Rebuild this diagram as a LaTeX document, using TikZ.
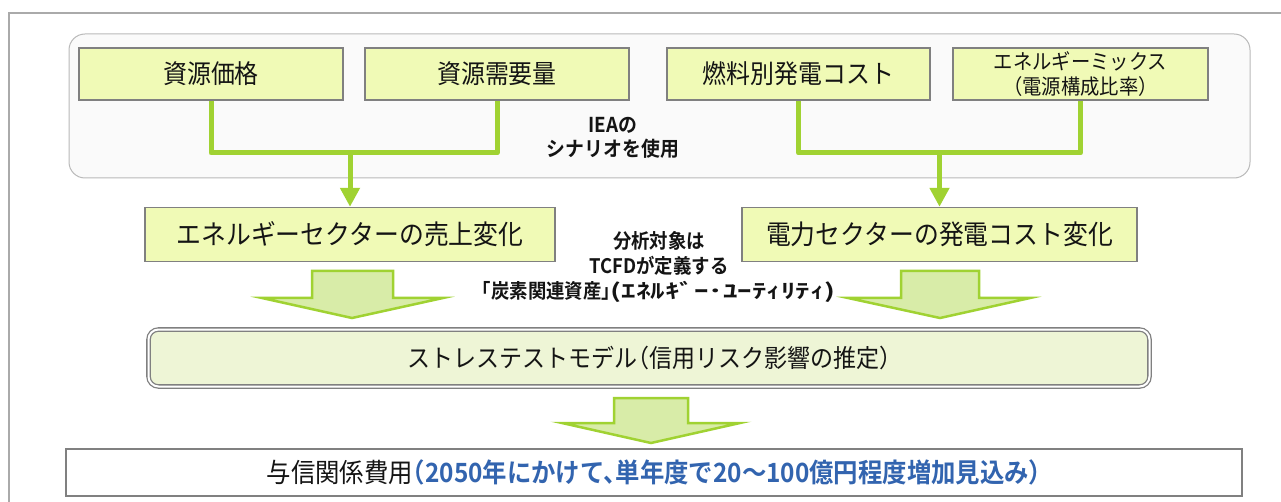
\documentclass[tikz,border=0pt]{standalone}
\usepackage{fontspec}
\setmainfont{Noto Sans CJK JP}[BoldFont={Noto Sans CJK JP Bold}, FakeStretch=0.92]
\newfontfamily\jph{Noto Sans CJK JP}[BoldFont={Noto Sans CJK JP Bold}, FakeStretch=0.92, RawFeature=+halt]
\newfontfamily\jpwide{Noto Sans CJK JP}[BoldFont={Noto Sans CJK JP Bold}, FakeStretch=1.45]
\usetikzlibrary{arrows.meta}
\definecolor{boxfill}{RGB}{240,250,182}
\definecolor{boxline}{RGB}{128,128,128}
\definecolor{conngreen}{RGB}{160,210,50}
\definecolor{arrowfill}{RGB}{216,236,168}
\definecolor{stressfill}{RGB}{238,245,214}
\definecolor{panelfill}{RGB}{250,250,250}
\definecolor{panelline}{RGB}{185,185,185}
\definecolor{frameline}{RGB}{170,170,170}
\definecolor{bluetxt}{RGB}{50,100,175}
\definecolor{txt}{RGB}{20,20,20}
\begin{document}
\begin{tikzpicture}[x=1pt,y=-1pt,
  box/.style={draw=boxline, fill=boxfill, line width=1.4pt, inner sep=0pt,
    minimum height=52pt, text=txt, font=\fontsize{26}{30}\selectfont},
  midbox/.style={box, minimum height=54pt, font=\fontsize{27}{31}\selectfont},
  conn/.style={draw=conngreen, line width=5pt, line join=round},
  tip/.style={-{Triangle[width=19pt,length=19pt]}},
  bigarrow/.style={draw=conngreen, fill=arrowfill, line width=2.5pt, line join=miter},
  lbl/.style={text=txt, align=center, inner sep=0pt},
  stress/.style={draw=boxline, double=white, double distance=2pt, line width=1.3pt,
    fill=stressfill, rounded corners=10pt, inner sep=0pt, text=txt,
    font=\jph\fontsize{25}{29}\selectfont},
  result/.style={draw=boxline, fill=white, line width=2pt, inner sep=0pt, text=txt,
    font=\jph\fontsize{26.5}{30}\selectfont}
]
\useasboundingbox (0,0) rectangle (1281,502);
\fill[white] (0,0) rectangle (1281,502);
% outer frame
\draw[frameline, line width=2pt] (9,502) -- (9,13) -- (1281,13);
% scenario panel
\draw[panelline, fill=panelfill, line width=1pt, rounded corners=16pt] (69,34) rectangle (1250,178);
% top boxes
\node[box, minimum width=264pt] (b1) at (211,74) {資源価格};
\node[box, minimum width=264pt] (b2) at (497,74) {資源需要量};
\node[box, minimum width=263pt] (b3) at (798.5,74) {燃料別発電コスト};
\node[box, minimum width=255pt, align=center, font=\fontsize{21}{25}\selectfont] (b4) at (1080.5,74) {エネルギーミックス\\（電源構成比率）};
\node[lbl, font=\bfseries\fontsize{20.5}{24}\selectfont] (iea) at (613,138) {IEAの\\シナリオを使用};
% sector boxes
\node[midbox, minimum width=410pt] (e1) at (350,234.5) {エネルギーセクターの売上変化};
\node[midbox, minimum width=395pt] (e2) at (939.5,234.5) {電力セクターの発電コスト変化};
% connectors
\coordinate (c1) at (350,153);
\coordinate (c2) at (939.5,153);
\draw[conn] (b1.south) -- (b1.south |- c1) -- (b2.south |- c1) -- (b2.south);
\draw[conn] (b3.south) -- (b3.south |- c2) -- (b4.south |- c2) -- (b4.south);
\draw[conn, tip] (c1) -- (e1.north);
\draw[conn, tip] (c2) -- (e2.north);
% middle note
\node[lbl, font=\jph\bfseries\fontsize{20}{25}\selectfont] (note) at (659,267) {分析対象は\\TCFDが定義する\\「炭素関連資産」{\jpwide\bfseries\fontsize{20}{25}\selectfont (ｴﾈﾙｷﾞｰ･ﾕｰﾃｨﾘﾃｨ)}};
% block arrows
\draw[bigarrow] (312,271) -- (393,271) -- (393,298) -- (443,298) -- (352,318) -- (262,298) -- (312,298) -- cycle;
\draw[bigarrow] (901,271) -- (979,271) -- (979,298) -- (1030,298) -- (940,318) -- (848,298) -- (901,298) -- cycle;
\draw[bigarrow] (614,398) -- (688,398) -- (688,423) -- (740,423) -- (651,443) -- (562,423) -- (614,423) -- cycle;
% stress test model
\node[stress, minimum width=1001pt, minimum height=57pt] (s) at (649,358) {ストレステストモデル（信用リスク影響の推定）};
% result
\node[result, minimum width=1176pt, minimum height=47pt] (r) at (654,472.5) {与信関係費用\textcolor{bluetxt}{\bfseries （2050年にかけて、単年度で20～100億円程度増加見込み）}};
\end{tikzpicture}
\end{document}
